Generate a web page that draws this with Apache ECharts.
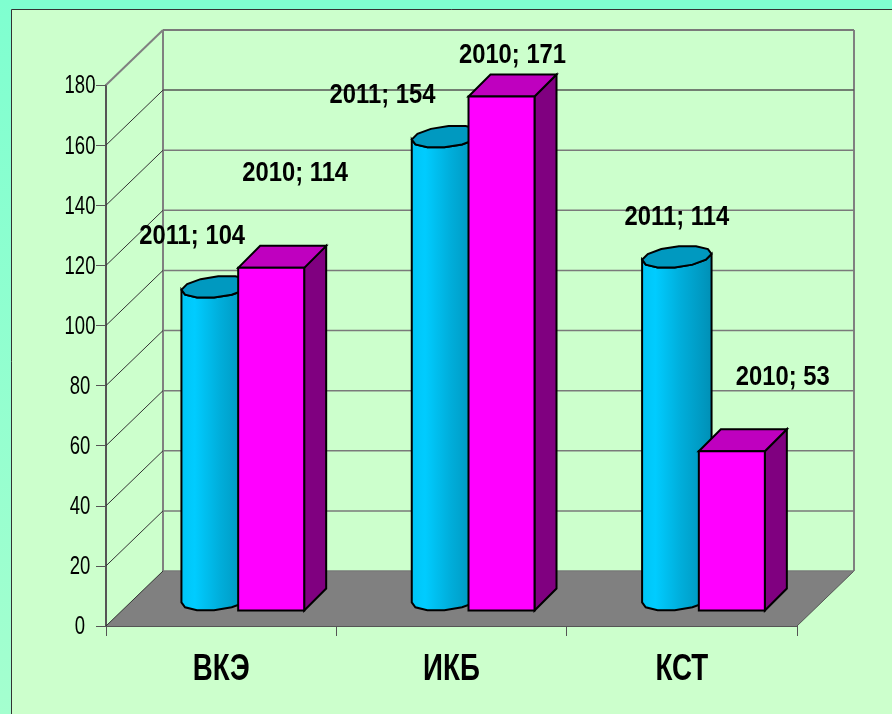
<!DOCTYPE html>
<html>
<head>
<meta charset="utf-8">
<title>chart</title>
<style>
  html, body { margin: 0; padding: 0; background: #ccffcc; }
  #main { width: 892px; height: 714px; }
</style>
<script src="https://cdn.jsdelivr.net/npm/echarts@6/dist/echarts.min.js"></script>
</head>
<body>
<div id="main"></div>
<script>
// данные
var categories = ['ВКЭ', 'ИКБ', 'КСТ'];
var values2011 = [104, 154, 114];
var values2010 = [114, 171, 53];
var yTicks = [0, 20, 40, 60, 80, 100, 120, 140, 160, 180];

// где стоит подпись относительно верха столбика, px
var labelOffset2011 = [[-29, -77], [-69, -68], [-5, -66]];
var labelOffset2010 = [[74, -110], [61, -57], [101, -89]];

// псевдо-3D
var WALL_DX = 57, WALL_DY = -55;   // глубина стенок
var FRONT_DX = 17, FRONT_DY = -15.5; // передняя плоскость столбиков
var BAR_DEPTH = 22;
var BAR_WIDTH = 0.2866; // доля от ширины категории

// узкого шрифта нет, поэтому сжимаем Liberation Sans по горизонтали
var FONT = '"Liberation Sans", Arial, sans-serif';

var myChart = echarts.init(document.getElementById('main'));

function wallLine(params, api) {
  var v = api.value(0);
  var y = api.coord([0, v])[1];
  var cs = params.coordSys;
  var x0 = cs.x, x1 = cs.x + cs.width;
  var isTop = v === 180;
  return {
    type: 'group',
    children: [
      {
        type: 'line',
        shape: { x1: x0, y1: y, x2: x0 + WALL_DX, y2: y + WALL_DY },
        style: { stroke: isTop ? '#808080' : '#333333', lineWidth: isTop ? 2 : 1 }
      },
      {
        type: 'line',
        shape: { x1: x0 + WALL_DX, y1: y + WALL_DY, x2: x1 + WALL_DX, y2: y + WALL_DY },
        style: { stroke: v === 160 ? '#555555' : '#7a7a7a', lineWidth: isTop ? 2 : 1.5 }
      },
      {
        // подпись оси, сжатая как в оригинале
        type: 'text',
        x: x0 - 26,
        y: y + 1.5,
        scaleX: 0.74,
        style: { text: String(v), align: 'center', verticalAlign: 'middle', font: '25px ' + FONT, fill: '#000000' }
      }
    ]
  };
}

function walls(params, api) {
  var cs = params.coordSys;
  var l = cs.x, r = cs.x + cs.width, t = cs.y, b = cs.y + cs.height;
  return {
    type: 'group',
    children: [
      {
        type: 'polygon',
        shape: { points: [[l, b], [r, b], [r + WALL_DX, b + WALL_DY], [l + WALL_DX, b + WALL_DY]] },
        style: { fill: '#808080', stroke: null }
      },
      {
        type: 'line',
        shape: { x1: l + WALL_DX, y1: t + WALL_DY, x2: l + WALL_DX, y2: b + WALL_DY },
        style: { stroke: '#808080', lineWidth: 2 }
      },
      {
        type: 'line',
        shape: { x1: r + WALL_DX, y1: t + WALL_DY, x2: r + WALL_DX, y2: b + WALL_DY },
        style: { stroke: '#808080', lineWidth: 2 }
      },
      {
        type: 'line',
        shape: { x1: r, y1: b, x2: r + WALL_DX, y2: b + WALL_DY },
        style: { stroke: '#555555', lineWidth: 1 }
      }
    ]
  };
}

function categoryLabel(params, api) {
  var cat = api.value(0);
  var p = api.coord([cat, 0]);
  return {
    type: 'text',
    x: p[0],
    y: p[1] + 44,
    scaleX: 0.77,
    style: { text: categories[cat], align: 'center', verticalAlign: 'middle', font: 'bold 36px ' + FONT, fill: '#000000' }
  };
}

// цилиндр 2011: многоугольник из 12 точек, как в оригинале
function ringPoints(cx, cy, halfW) {
  var pts = [];
  for (var k = 0; k < 12; k++) {
    var t = (15 + 30 * k) * Math.PI / 180;
    pts.push([
      cx + halfW * Math.cos(t) + BAR_DEPTH / 2 * Math.sin(t),
      cy - BAR_DEPTH / 2 * Math.sin(t)
    ]);
  }
  return pts;
}

function cylinder(params, api) {
  var cat = api.value(0);
  var top = api.coord([cat, api.value(1)]);
  var base = api.coord([cat, 0]);
  var w = api.size([1, 0])[0] * BAR_WIDTH;
  var cx = top[0] + FRONT_DX - w / 2 + BAR_DEPTH / 2;
  var dy = FRONT_DY - BAR_DEPTH / 2;
  var topRing = ringPoints(cx, top[1] + dy, w / 2);
  var baseRing = ringPoints(cx, base[1] + dy, w / 2);
  // бок: верхнее кольцо слева направо, затем нижнее справа налево
  // точки 6..11 и 0 это передняя половина кольца
  var side = [];
  var order = [6, 7, 8, 9, 10, 11, 0];
  order.forEach(function (i) { side.push(topRing[i]); });
  order.slice().reverse().forEach(function (i) { side.push(baseRing[i]); });
  return {
    type: 'group',
    children: [
      {
        type: 'polygon',
        shape: { points: side },
        style: {
          fill: new echarts.graphic.LinearGradient(0, 0, 1, 0, [
            { offset: 0, color: '#00c4f4' },
            { offset: 0.2, color: '#00ccff' },
            { offset: 0.55, color: '#00aedb' },
            { offset: 1, color: '#008fb5' }
          ]),
          stroke: '#000000',
          lineWidth: 2
        }
      },
      {
        type: 'polygon',
        shape: { points: topRing },
        style: { fill: '#0099c0', stroke: '#000000', lineWidth: 2 }
      }
    ]
  };
}

function box(params, api) {
  var cat = api.value(0);
  var top = api.coord([cat, api.value(1)]);
  var base = api.coord([cat, 0]);
  var w = api.size([1, 0])[0] * BAR_WIDTH;
  var x0 = top[0] + FRONT_DX, x1 = x0 + w;
  var yT = top[1] + FRONT_DY, yB = base[1] + FRONT_DY;
  var d = BAR_DEPTH;
  return {
    type: 'group',
    children: [
      {
        type: 'polygon',
        shape: { points: [[x1, yT], [x1 + d, yT - d], [x1 + d, yB - d], [x1, yB]] },
        style: { fill: '#800080', stroke: '#000000', lineWidth: 2 }
      },
      {
        type: 'polygon',
        shape: { points: [[x0, yT], [x0 + d, yT - d], [x1 + d, yT - d], [x1, yT]] },
        style: { fill: '#bf00bf', stroke: '#000000', lineWidth: 2 }
      },
      {
        type: 'polygon',
        shape: { points: [[x0, yT], [x1, yT], [x1, yB], [x0, yB]] },
        style: { fill: '#ff00ff', stroke: '#000000', lineWidth: 2 }
      }
    ]
  };
}

function makeLabels(name, offsets) {
  return function (params, api) {
    var cat = api.value(0), v = api.value(1);
    var p = api.coord([cat, v]);
    var off = offsets[cat];
    return {
      type: 'text',
      x: p[0] + off[0],
      y: p[1] + off[1],
      scaleX: 0.85,
      style: {
        text: name + '; ' + v,
        align: 'center',
        verticalAlign: 'middle',
        font: 'bold 28px ' + FONT,
        fill: '#000000'
      }
    };
  };
}

function pairs(arr) {
  return arr.map(function (v, i) { return [i, v]; });
}

myChart.setOption({
  animation: false,
  backgroundColor: '#ccffcc',
  graphic: [
    {
      type: 'rect', z: -10, silent: true,
      shape: { x: 0, y: 0, width: 892, height: 9 },
      style: { fill: '#7fffd0' }
    },
    {
      type: 'rect', z: -10, silent: true,
      shape: { x: 0, y: 0, width: 11, height: 714 },
      style: {
        fill: new echarts.graphic.LinearGradient(0, 0, 0, 1, [
          { offset: 0, color: '#7fffd0' },
          { offset: 1, color: '#a4ffcf' }
        ])
      }
    },
    {
      type: 'polyline', z: -9, silent: true,
      shape: { points: [[11.5, 714], [11.5, 9.5], [892, 9.5]] },
      style: { stroke: '#333333', lineWidth: 1, fill: null }
    }
  ],
  grid: { left: 106, right: 95, top: 85, bottom: 88 },
  xAxis: {
    type: 'category',
    data: categories,
    axisLine: { lineStyle: { color: '#555555', width: 2 } },
    axisTick: { show: true, length: 10, lineStyle: { color: '#555555', width: 1 } },
    axisLabel: { show: false }
  },
  yAxis: {
    type: 'value',
    min: 0,
    max: 180,
    interval: 20,
    splitLine: { show: false },
    axisLine: { show: true, lineStyle: { color: '#555555', width: 2 } },
    axisTick: { show: true, length: 10, lineStyle: { color: '#555555', width: 1 } },
    axisLabel: { show: false }
  },
  series: [
    { type: 'custom', name: 'walls', silent: true, renderItem: walls, data: [[0]], z: 1 },
    { type: 'custom', name: 'grid', silent: true, renderItem: wallLine, data: yTicks.map(function (v) { return [v]; }), encode: { y: 0 }, z: 1 },
    { type: 'custom', name: 'categories', silent: true, renderItem: categoryLabel, data: categories.map(function (c, i) { return [i]; }), encode: { x: 0 }, z: 1 },
    { type: 'custom', name: '2011', renderItem: cylinder, data: pairs(values2011), encode: { x: 0, y: 1 }, z: 3 },
    { type: 'custom', name: '2010', renderItem: box, data: pairs(values2010), encode: { x: 0, y: 1 }, z: 4 },
    { type: 'custom', name: 'labels2011', silent: true, renderItem: makeLabels('2011', labelOffset2011), data: pairs(values2011), encode: { x: 0, y: 1 }, z: 5 },
    { type: 'custom', name: 'labels2010', silent: true, renderItem: makeLabels('2010', labelOffset2010), data: pairs(values2010), encode: { x: 0, y: 1 }, z: 5 }
  ]
});
</script>
</body>
</html>
